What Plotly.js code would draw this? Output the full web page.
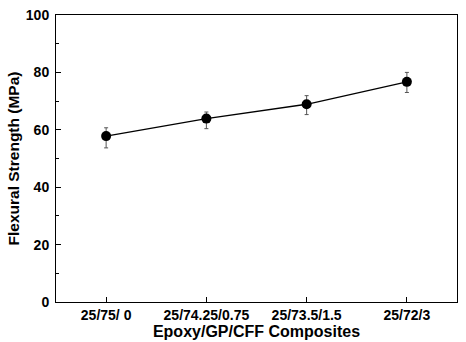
<!DOCTYPE html>
<html>
<head>
<meta charset="utf-8">
<script src="https://cdn.plot.ly/plotly-3.0.1.min.js"></script>
<style>html,body{margin:0;padding:0;background:#fff;}#chart{width:466px;height:342px;}</style>
</head>
<body>
<div id="chart"></div>
<script>
const categories = ["25/75/ 0", "25/74.25/0.75", "25/73.5/1.5", "25/72/3"];
const strength = [57.8, 63.9, 68.9, 76.7];
const errPlus = [2.9, 2.3, 3.0, 3.3];
const errMinus = [4.1, 3.5, 3.6, 3.7];

const font = "Liberation Sans, Arial, sans-serif";

const trace = {
  x: categories.map((c, i) => i),
  y: strength,
  type: "scatter",
  mode: "lines+markers",
  line: {color: "#000", width: 1.3},
  marker: {color: "#000", size: 10, symbol: "circle"},
  error_y: {type: "data", symmetric: false, array: errPlus, arrayminus: errMinus, color: "#555", thickness: 1, width: 2},
  showlegend: false,
  cliponaxis: false
};

const layout = {
  width: 466, height: 342,
  margin: {l: 56, r: 9, t: 15, b: 40},
  paper_bgcolor: "#fff", plot_bgcolor: "#fff",
  font: {family: font, color: "#000", size: 14, weight: "bold"},
  xaxis: {
    range: [-0.5, 3.5],
    tickmode: "array",
    tickvals: categories.map((c, i) => i),
    ticktext: categories,
    ticks: "inside", ticklen: 5, tickwidth: 1, tickcolor: "#000",
    showline: true, linecolor: "#000", linewidth: 1, mirror: true,
    showgrid: false, zeroline: false,
    tickfont: {family: font, size: 14, color: "#000", weight: "bold"},
    title: {text: "Epoxy/GP/CFF Composites", font: {family: font, size: 16, color: "#000", weight: "bold"}, standoff: 3}
  },
  yaxis: {
    range: [0, 100],
    tickvals: [0, 20, 40, 60, 80, 100],
    ticks: "inside", ticklen: 5, tickwidth: 1, tickcolor: "#000",
    minor: {tickvals: [10, 30, 50, 70, 90], ticks: "inside", ticklen: 3, tickcolor: "#000"},
    showline: true, linecolor: "#000", linewidth: 1, mirror: true,
    showgrid: false, zeroline: false,
    ticklabelstandoff: 3,
    tickfont: {family: font, size: 14, color: "#000", weight: "bold"},
    title: {text: "Flexural Strength (MPa)", font: {family: font, size: 15.5, color: "#000", weight: "bold"}, standoff: 2}
  }
};

Plotly.newPlot("chart", [trace], layout, {displayModeBar: false, staticPlot: true});
</script>
</body>
</html>
